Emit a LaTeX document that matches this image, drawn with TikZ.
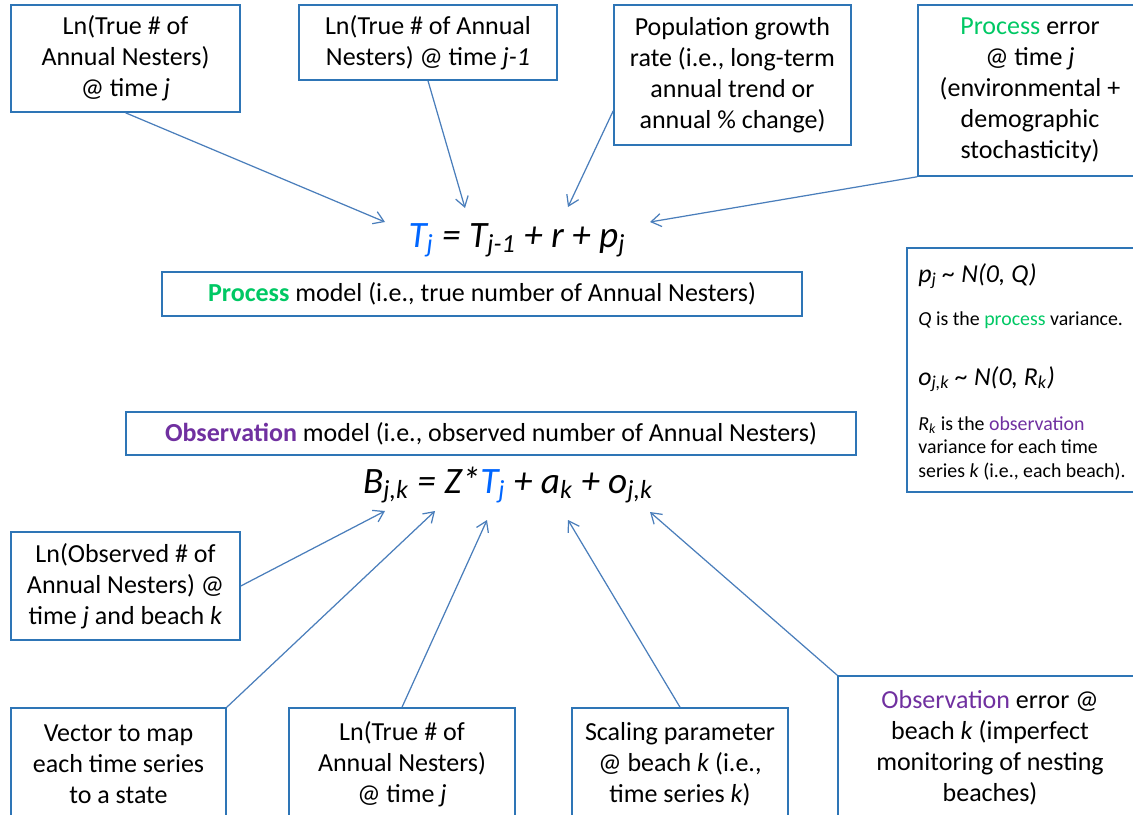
\documentclass[tikz,border=0pt]{standalone}
\usepackage{fontspec}
\setmainfont{Carlito}
\usetikzlibrary{arrows.meta,positioning,calc}

\definecolor{boxblue}{RGB}{46,117,182}
\definecolor{linkblue}{RGB}{74,126,187}
\definecolor{procgreen}{RGB}{0,200,100}
\definecolor{obspurple}{RGB}{112,48,160}
\definecolor{tblue}{RGB}{0,102,255}

\newcommand{\lsub}[1]{\textsubscript{#1}}
\newcommand{\procword}[1]{\textcolor{procgreen}{#1}}
\newcommand{\obsword}[1]{\textcolor{obspurple}{#1}}

\begin{document}
\begin{tikzpicture}[
			x=0.02cm, y=-0.02cm,
			>={Straight Barb[length=2mm,width=2.6mm]},
			label/.style={
				draw=boxblue,
				line width=0.9pt,
				align=center,
				inner sep=0pt,
				font=\fontsize{14.8}{17.6}\selectfont
			},
			model/.style={
				draw=boxblue,
				line width=0.9pt,
				align=center,
				inner sep=0pt,
				font=\fontsize{14.8}{17}\selectfont
			},
			eqn/.style={
				anchor=base,
				inner sep=0pt,
				font=\itshape\fontsize{21.2}{25}\selectfont
			},
			note/.style={
				anchor=base west,
				inner sep=0pt,
				font=\fontsize{11.3}{13}\selectfont
			},
			dist/.style={
				note,
				font=\itshape\fontsize{14.7}{16}\selectfont
			},
			link/.style={->,draw=linkblue,line width=0.7pt}
			]
			
			\clip (0,0) rectangle (1133,815);
			
			% Process model
			\node[label,minimum width=4.58cm,minimum height=2.14cm] (lntrue) at (125.5,58.5)
			{Ln(True \# of\\Annual Nesters)\\@ time \textit{j}};
			\node[label,minimum width=5.16cm,minimum height=1.5cm] (lnprev) at (428,42.5)
			{Ln(True \# of Annual\\Nesters) @ time \textit{j-1}};
			\node[label,minimum width=4.74cm,minimum height=2.8cm] (growth) at (732.5,75)
			{Population growth\\rate (i.e., long-term\\annual trend or\\annual \% change)};
			\node[label,minimum width=4.48cm,minimum height=3.42cm] (procerr) at (1030,90.5)
			{\procword{Process} error\\@ time \textit{j}\\(environmental +\\demographic\\stochasticity)};
			
			\node[eqn] (proceq) at (517,247)
			{\textcolor{tblue}{T\lsub{j}} = T\lsub{j-1} + r + p\lsub{j}};
			\node[model,minimum width=12.8cm,minimum height=0.88cm] (procmodel) at (482,294)
			{\textbf{\procword{Process}} model (i.e., true number of Annual Nesters)};
			
			\coordinate (tipT) at (385,222);
			\coordinate (tipTprev) at (465,208);
			\coordinate (tipr) at (568,207);
			\coordinate (tipp) at (650,222);
			
			\draw[link] (lntrue.south) -- (tipT);
			\draw[link] (lnprev.south) -- (tipTprev);
			\draw[link] ([yshift=0.7cm]growth.south west) -- (tipr);
			\draw[link] (procerr.south west) -- (tipp);
			
			% Variances
			\node[draw=boxblue,line width=0.9pt,minimum width=4.66cm,minimum height=4.88cm] (noise) at (1023.5,370) {};
			\node[dist] (pdist) at (918,282) {p\lsub{j} \~{} N(0, Q)};
			\node[note] (qtext) at (918,325) {\textit{Q} is the \procword{process} variance.};
			\node[dist] (odist) at (918,385) {o\lsub{j,k} \~{} N(0, R\lsub{k})};
			\node[note] (rtexta) at (918,430) {\textit{R\lsub{k}} is the \obsword{observation}};
			\node[note] (rtextb) at (918,453) {variance for each time};
			\node[note] (rtextc) at (918,477) {series \textit{k} (i.e., each beach).};
			
			% Observation model
			\node[model,minimum width=14.6cm,minimum height=0.86cm] (obsmodel) at (491,433.5)
			{\textbf{\obsword{Observation}} model (i.e., observed number of Annual Nesters)};
			\node[eqn] (obseq) at (508,493)
			{B\lsub{j,k} = Z*\textcolor{tblue}{T\lsub{j}} + a\lsub{k} + o\lsub{j,k}};
			
			\node[label,minimum width=4.58cm,minimum height=2.16cm] (lnobs) at (125.5,586)
			{Ln(Observed \# of\\Annual Nesters) @\\time \textit{j} and beach \textit{k}};
			\node[label,minimum width=4.3cm,minimum height=2.24cm] (zvec) at (118.5,764)
			{Vector to map\\each time series\\to a state};
			\node[label,minimum width=4.52cm,minimum height=2.24cm] (lntrueobs) at (402,764)
			{Ln(True \# of\\Annual Nesters)\\@ time \textit{j}};
			\node[label,minimum width=4.32cm,minimum height=2.24cm] (scaling) at (680,764)
			{Scaling parameter\\@ beach \textit{k} (i.e.,\\time series \textit{k})};
			\node[label,minimum width=6.08cm,minimum height=2.88cm] (obserr) at (990,748)
			{\obsword{Observation} error @\\beach \textit{k} (imperfect\\monitoring of nesting\\beaches)};
			
			\coordinate (tipB) at (385,511);
			\coordinate (tipZ) at (435,511);
			\coordinate (tipTobs) at (487,520);
			\coordinate (tipa) at (568,520);
			\coordinate (tipo) at (650,512);
			
			\draw[link] (lnobs.east) -- (tipB);
			\draw[link] (zvec.north east) -- (tipZ);
			\draw[link] (lntrueobs.north) -- (tipTobs);
			\draw[link] (scaling.north) -- (tipa);
			\draw[link] (obserr.north west) -- (tipo);
			
		\end{tikzpicture}
\end{document}
